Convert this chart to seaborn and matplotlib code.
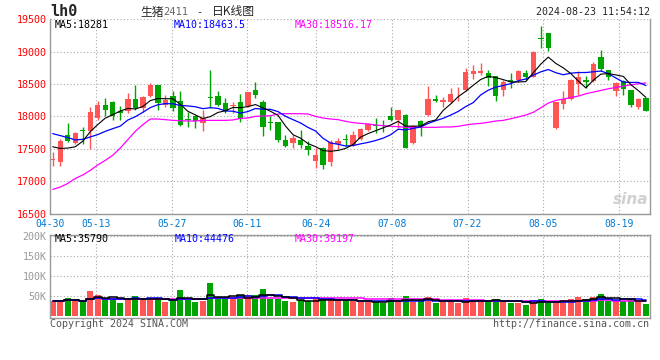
import numpy as np
import pandas as pd
import matplotlib
matplotlib.use("Agg")
import matplotlib.pyplot as plt
import seaborn as sns

# LH2411 daily k-line, 2024-04-30 .. 2024-08-23 (80 sessions)
tick_idx = [0, 6, 16, 26, 35, 45, 55, 65, 75]
tick_lbl = ['04-30', '05-13', '05-27', '06-11', '06-24', '07-08', '07-22', '08-05', '08-19']

opens = [17320, 17295, 17705, 17587, 17790, 17772, 17970, 18182, 18218, 18077,
         18077, 18272, 18128, 18318, 18487, 18180, 18318, 18241, 17960, 18000,
         17900, 18292, 18318, 18205, 18160, 18220, 18154, 18410, 18220, 17913,
         17908, 17641, 17590, 17641, 17549, 17307, 17513, 17292, 17580, 17641,
         17564, 17656, 17795, 17860, 17860, 18000, 17938, 18026, 17590, 17923,
         18015, 18272, 18215, 18215, 18400, 18400, 18651, 18667, 18677, 18626,
         18400, 18564, 18554, 18677, 18605, 19215, 19282, 17820, 18195, 18267,
         18503, 18564, 18549, 18913, 18718, 18385, 18549, 18400, 18144, 18282]
highs = [17450, 17654, 17895, 17760, 17830, 18140, 18240, 18279, 18230, 18154,
         18359, 18487, 18320, 18513, 18490, 18333, 18395, 18385, 18070, 18025,
         18095, 18718, 18385, 18282, 18215, 18349, 18380, 18523, 18256, 18000,
         17910, 17718, 17718, 17785, 17626, 17513, 17520, 17641, 17667, 17733,
         17769, 17815, 17897, 17974, 17949, 18144, 18103, 18036, 17865, 17949,
         18472, 18333, 18297, 18436, 18451, 18754, 18795, 18830, 18718, 18630,
         18564, 18667, 18718, 18718, 19015, 19395, 19285, 18220, 18385, 18570,
         18702, 18626, 18846, 19025, 18720, 18538, 18564, 18410, 18280, 18285]
lows = [17240, 17228, 17602, 17575, 17580, 17490, 17940, 18013, 17936, 17949,
        18050, 18103, 18070, 18300, 18103, 18150, 18077, 17846, 17830, 17820,
        17780, 18128, 18154, 18051, 18051, 17908, 18140, 18282, 17690, 17795,
        17600, 17528, 17513, 17513, 17410, 17205, 17180, 17241, 17497, 17538,
        17549, 17640, 17780, 17744, 17754, 17923, 17820, 17513, 17580, 17692,
        18000, 18220, 18138, 18205, 18240, 18385, 18580, 18641, 18461, 18241,
        18308, 18436, 18538, 18554, 18600, 19050, 19015, 17810, 18113, 18260,
        18333, 18436, 18538, 18702, 18564, 18308, 18333, 18138, 18113, 18077]
closes = [17340, 17618, 17612, 17741, 17770, 18074, 18170, 18105, 18013, 18051,
          18272, 18128, 18292, 18477, 18205, 18256, 18128, 17862, 17940, 17923,
          17975, 18282, 18180, 18077, 18170, 17959, 18369, 18333, 17831, 17900,
          17641, 17549, 17662, 17564, 17477, 17410, 17246, 17610, 17626, 17631,
          17718, 17810, 17887, 17850, 17845, 17938, 18092, 17513, 17856, 17846,
          18272, 18231, 18256, 18349, 18410, 18682, 18702, 18702, 18590, 18318,
          18523, 18523, 18703, 18615, 19000, 19195, 19061, 18215, 18267, 18564,
          18615, 18538, 18810, 18733, 18605, 18513, 18420, 18169, 18272, 18087]

# moving averages as drawn on the chart
ma5 = [17530, 17505, 17510, 17530, 17616, 17763, 17873, 17972, 18026, 18083,
       18122, 18114, 18151, 18244, 18275, 18272, 18272, 18186, 18078, 18022,
       17966, 17996, 18060, 18087, 18137, 18134, 18151, 18182, 18132, 18078,
       18015, 17851, 17717, 17663, 17579, 17532, 17472, 17461, 17474, 17505,
       17566, 17679, 17734, 17779, 17822, 17866, 17922, 17848, 17849, 17849,
       17916, 17944, 18092, 18191, 18304, 18386, 18480, 18569, 18617, 18599,
       18567, 18531, 18531, 18536, 18673, 18807, 18915, 18817, 18748, 18660,
       18544, 18440, 18559, 18652, 18660, 18640, 18616, 18488, 18396, 18292]
ma10 = [17733, 17703, 17672, 17636, 17645, 17682, 17718, 17769, 17810, 17849,
        17943, 17994, 18062, 18135, 18179, 18197, 18193, 18168, 18161, 18148,
        18119, 18134, 18123, 18083, 18079, 18050, 18074, 18121, 18110, 18108,
        18074, 18001, 17949, 17898, 17829, 17774, 17661, 17589, 17569, 17542,
        17549, 17575, 17598, 17627, 17663, 17716, 17801, 17791, 17814, 17836,
        17891, 17933, 17970, 18020, 18076, 18151, 18212, 18331, 18404, 18451,
        18476, 18506, 18550, 18577, 18636, 18687, 18723, 18674, 18642, 18667,
        18676, 18677, 18688, 18700, 18660, 18592, 18528, 18523, 18524, 18476]
ma30 = [16872, 16908, 16964, 17040, 17095, 17165, 17250, 17320, 17400, 17510,
        17640, 17769, 17872, 17959, 17959, 17949, 17938, 17933, 17928, 17928,
        17938, 17938, 17938, 17938, 17944, 17969, 17974, 18000, 18005, 18010,
        18036, 18041, 18041, 18041, 18036, 18000, 17974, 17959, 17949, 17923,
        17903, 17892, 17882, 17867, 17856, 17846, 17841, 17831, 17831, 17831,
        17831, 17831, 17836, 17836, 17846, 17867, 17882, 17892, 17908, 17928,
        17938, 17964, 17990, 18021, 18062, 18133, 18205, 18246, 18267, 18292,
        18313, 18349, 18374, 18400, 18426, 18446, 18467, 18487, 18502, 18516]

# volume, thousand lots
vol_k = [36.7, 36.7, 44, 36.7, 34, 61.7, 51.7, 39, 41.7, 31.7,
         44, 49, 39, 39, 44, 34, 36.7, 64, 39, 34,
         37, 81.7, 41.7, 41.7, 41.7, 51, 51, 51, 66.7, 41.7,
         41.7, 36.7, 34, 39, 36.7, 41.7, 39, 43.4, 36.7, 36.7,
         36.7, 34, 34, 34, 31.7, 44, 36.7, 49, 34, 36.7,
         46.7, 31.7, 34, 34, 31.7, 44, 36.7, 34, 39, 41.7,
         34, 31.7, 31.7, 26.7, 39, 41.7, 31.7, 31.7, 36.7, 41.7,
         46.7, 41.7, 46.7, 54, 36.7, 36.7, 36.7, 41.7, 34, 29]

RED = '#ff5555'
GREEN = '#00a400'
GRID = '#a8a8a8'
EDGE = '#999999'

sns.set_style("white")
plt.rcParams['font.family'] = ['DejaVu Sans Mono', 'Noto Sans CJK SC']

W, H = 660, 360
fig = plt.figure(figsize=(W / 100, H / 100), dpi=100)

def fx(x):
    return x / W

def fy(y):
    return 1 - y / H

ax = fig.add_axes([fx(50), fy(213.5), 600 / W, 194.3 / H])
axv = fig.add_axes([fx(50), fy(318.3), 600 / W, 83.6 / H])

idx = np.arange(len(closes))
o = np.array(opens)
c = np.array(closes)
cols = np.where(c >= o, RED, GREEN)

# candles
ax.vlines(idx, lows, highs, colors=cols, lw=1)
ax.bar(idx, np.maximum(np.abs(c - o), 14), bottom=np.minimum(o, c),
       width=0.72, color=cols, linewidth=0, zorder=2)

sns.lineplot(x=idx, y=ma30, ax=ax, color='#ff00ff', lw=0.9, zorder=3)
sns.lineplot(x=idx, y=ma10, ax=ax, color='#0000ff', lw=0.9, zorder=3)
sns.lineplot(x=idx, y=ma5, ax=ax, color='black', lw=0.8, zorder=3)

# volume
axv.bar(idx, vol_k, width=0.8, color=cols, linewidth=0)
vs = pd.Series(vol_k)
for n, colr in [(30, '#ff00ff'), (10, '#0000ff'), (5, 'black')]:
    axv.plot(idx, vs.rolling(n, min_periods=1).mean(), color=colr, lw=1.1,
             drawstyle='steps-mid')

# sina's grid runs a touch wider than the candle spacing
grid_x = [d * 1.0104 - 0.33 for d in tick_idx]

for a in (ax, axv):
    a.set_xlim(-0.36, 79.54)
    a.set_xlabel('')
    a.set_ylabel('')
    a.set_xticks(grid_x)
    a.grid(True, ls=(0, (1, 2)), color=GRID, lw=0.8)
    a.set_axisbelow(True)
    for s in a.spines.values():
        s.set_color(EDGE)
        s.set_linewidth(1)
    a.tick_params(length=0, labelsize=7.2, pad=2.5)

ax.spines['top'].set_visible(False)
ax.set_ylim(16500, 19500)
ax.set_yticks(range(16500, 19501, 500))
ax.tick_params(axis='y', labelcolor='red')
ax.set_xticklabels(tick_lbl, color='#0078d0', fontsize=7)
ax.tick_params(axis='x', pad=4)

axv.set_ylim(-6.5, 202.5)
axv.set_yticks([50, 100, 150, 200])
axv.set_yticklabels(['50K', '100K', '150K', '200K'], color=EDGE)
axv.set_xticklabels([])

ax.text(0.997, 0.035, 'sina', transform=ax.transAxes, ha='right', va='bottom',
        color='#d0d0d0', fontsize=11, fontstyle='italic', fontweight='bold',
        family='DejaVu Sans')

# header
fig.text(fx(50), fy(12), 'lh0', fontsize=11, fontweight='bold', va='center')
fig.text(fx(140), fy(12), '生猪', fontsize=8.5, va='center', family='Noto Sans CJK SC')
fig.text(fx(163), fy(12), '2411', fontsize=7.5, va='center', color='#666666')
fig.text(fx(196), fy(12), '-', fontsize=7.5, va='center')
fig.text(fx(212), fy(12), '日K线图', fontsize=8.5, va='center', family='Noto Sans CJK SC')
fig.text(fx(650), fy(12), '2024-08-23 11:54:12', fontsize=7.2, ha='right', va='center')

# legends
fig.text(fx(55), fy(24.5), 'MA5:18281', fontsize=7.2, va='center', color='black')
fig.text(fx(174), fy(24.5), 'MA10:18463.5', fontsize=7.2, va='center', color='#0000ff')
fig.text(fx(295), fy(24.5), 'MA30:18516.17', fontsize=7.2, va='center', color='#ff00ff')
fig.text(fx(55), fy(238.5), 'MA5:35790', fontsize=7.2, va='center', color='black')
fig.text(fx(175), fy(238.5), 'MA10:44476', fontsize=7.2, va='center', color='#0000ff')
fig.text(fx(295), fy(238.5), 'MA30:39197', fontsize=7.2, va='center', color='#ff00ff')

fig.text(fx(50), fy(324), 'Copyright 2024 SINA.COM', fontsize=7.2, va='center', color='#555555')
fig.text(fx(649), fy(324), 'http://finance.sina.com.cn', fontsize=7.2, ha='right', va='center',
         color='#555555')

fig.savefig('out.png', dpi=100)
